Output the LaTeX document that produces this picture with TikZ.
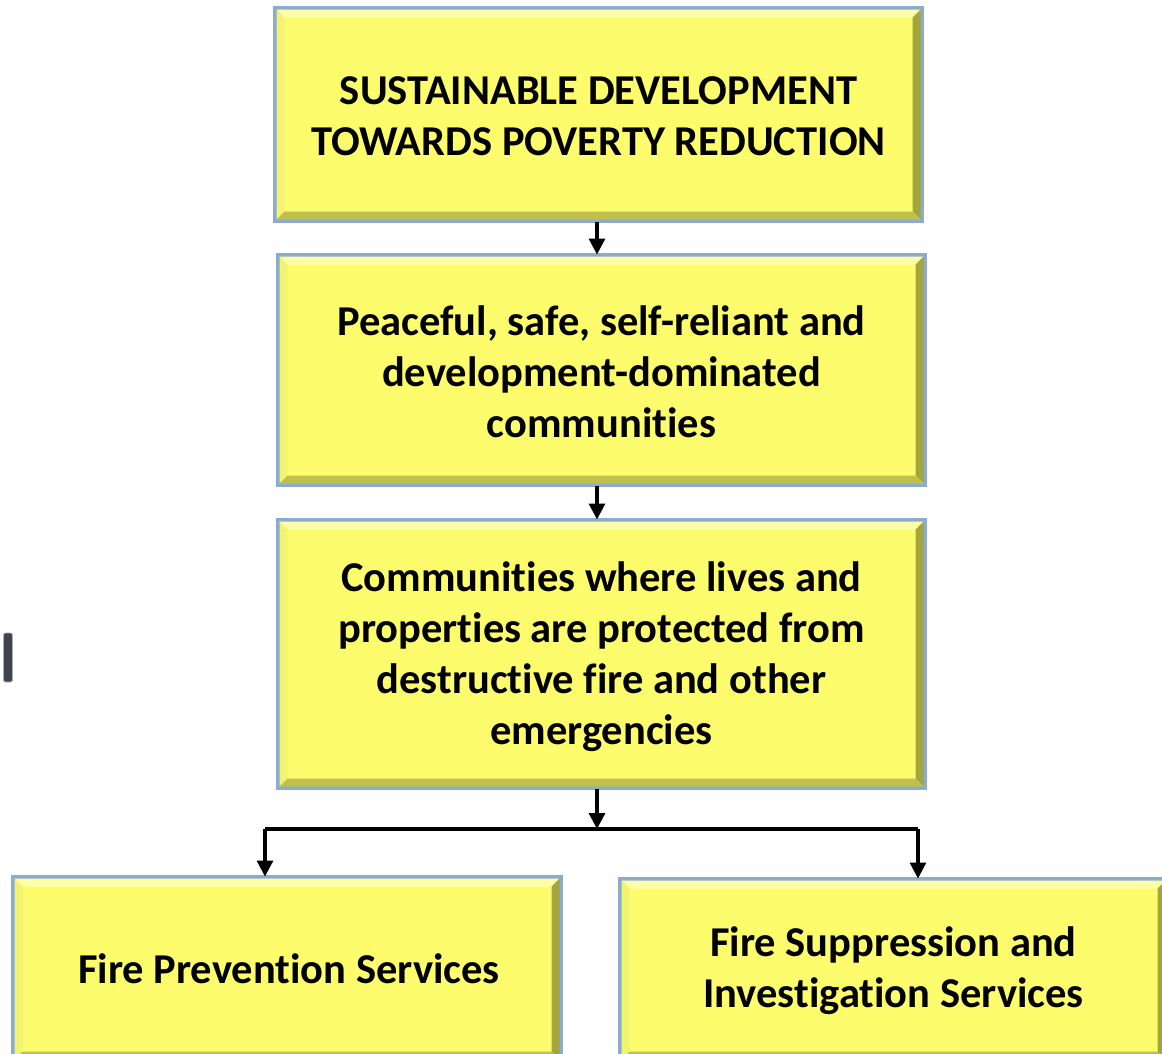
\documentclass[tikz,border=0pt]{standalone}
\usepackage{fontspec}
\setmainfont[Ligatures=NoCommon]{Carlito}
\usetikzlibrary{calc,arrows.meta}
\definecolor{boxfill}{RGB}{252,252,108}
\definecolor{boxedge}{RGB}{140,172,205}
\definecolor{bevtop}{RGB}{255,255,170}
\definecolor{bevleft}{RGB}{242,242,115}
\definecolor{bevright}{RGB}{165,165,62}
\definecolor{bevbot}{RGB}{192,192,78}
\definecolor{markc}{RGB}{62,68,84}
\tikzset{
  ybox/.style={draw=boxedge, line width=3pt, fill=boxfill, inner sep=0pt},
  ytext/.style={align=center, font=\bfseries\fontsize{42.5}{51}\selectfont, inner sep=0pt},
  arr/.style={line width=3.2pt, -{Triangle[length=16pt,width=16pt]}},
  ln/.style={line width=3.2pt}
}
\newcommand\bevelbox[1]{%
  \fill[bevtop] ($(#1.north west)+(2,2)$) -- ($(#1.north east)+(-2,2)$) -- ($(#1.north east)+(-10,10)$) -- ($(#1.north west)+(10,10)$) -- cycle;
  \fill[bevleft] ($(#1.north west)+(2,2)$) -- ($(#1.north west)+(10,10)$) -- ($(#1.south west)+(10,-10)$) -- ($(#1.south west)+(2,-2)$) -- cycle;
  \fill[bevright] ($(#1.north east)+(-2,2)$) -- ($(#1.south east)+(-2,-2)$) -- ($(#1.south east)+(-10,-10)$) -- ($(#1.north east)+(-10,10)$) -- cycle;
  \fill[bevbot] ($(#1.south west)+(2,-2)$) -- ($(#1.south east)+(-2,-2)$) -- ($(#1.south east)+(-10,-10)$) -- ($(#1.south west)+(10,-10)$) -- cycle;
  \draw[boxedge, line width=3pt] (#1.north west) rectangle (#1.south east);
}
\begin{document}
\begin{tikzpicture}[x=1pt,y=-1pt]
\useasboundingbox (0,0) rectangle (1162,1053);
\clip (0,0) rectangle (1162,1053);
\fill[white] (0,0) rectangle (1162,1053);

\node[ybox, minimum width=645pt, minimum height=211pt] (b1) at (598.5,114.5) {};
\node[ybox, minimum width=645pt, minimum height=228pt] (b2) at (601.5,370) {};
\node[ybox, minimum width=645pt, minimum height=266pt] (b3) at (601.5,654) {};
\node[ybox, minimum width=546pt, minimum height=182pt] (b4) at (287,969) {};
\node[ybox, minimum width=545pt, minimum height=180pt] (b5) at (893.5,970) {};
\bevelbox{b1}\bevelbox{b2}\bevelbox{b3}\bevelbox{b4}\bevelbox{b5}

\node[ytext] (t1) at (598.5,116.5) {SUSTAINABLE DEVELOPMENT\\TOWARDS POVERTY REDUCTION};
\node[ytext] (t2) at (601.5,372) {Peaceful, safe, self-reliant and\\development-dominated\\communities};
\node[ytext] (t3) at (601.5,657) {Communities where lives and\\properties are protected from\\destructive fire and other\\emergencies};
\node[ytext] (t4) at (289,969) {Fire Prevention Services};
\node[ytext] (t5) at (893.5,970.5) {Fire Suppression and\\Investigation Services};

\node[fill=markc, draw=gray!60, line width=0.8pt, rounded corners=2pt, minimum width=9pt, minimum height=49pt, inner sep=0pt] (mark) at (8,657.5) {};

\coordinate (jm) at (597,829);
\coordinate (jl) at (265,829);
\coordinate (jr) at (918,829);

\draw[arr] (b1.south -| jm) -- (b2.north -| jm);
\draw[arr] (b2.south -| jm) -- (b3.north -| jm);
\draw[arr] (b3.south -| jm) -- (jm);
\draw[ln] (jl) -- (jr);
\draw[arr] (jl) -- (jl |- b4.north);
\draw[arr] (jr) -- (jr |- b5.north);
\end{tikzpicture}
\end{document}
